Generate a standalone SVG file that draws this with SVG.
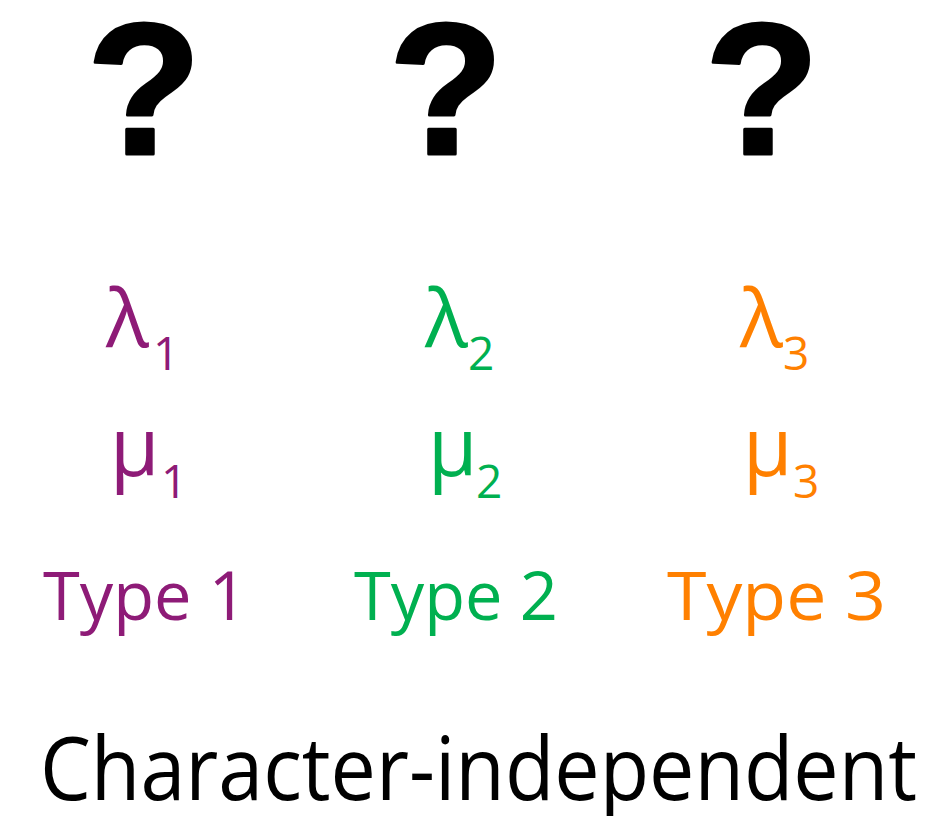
<svg xmlns="http://www.w3.org/2000/svg" width="938" height="816" viewBox="0 0 938 816">
<style>
.q{font-family:"Liberation Sans",Arial,sans-serif;font-weight:bold;font-size:188px;fill:#000;stroke:#000;stroke-width:3;stroke-linejoin:round;text-anchor:middle}
.g{font-family:"Open Sans",sans-serif;font-size:80px}
.s{font-family:"Open Sans",sans-serif;font-size:46px}
.t{font-family:"Open Sans",sans-serif;font-size:67px}
.c1{fill:#8E1B77}
.c2{fill:#00B050}
.c3{fill:#FF8000}
.b{font-family:"Open Sans",sans-serif;font-size:87px;fill:#000}
</style>
<rect width="938" height="816" fill="#fff"/>
<g id="type1">
<text class="q" x="144" y="154">?</text>
<text class="g c1" x="106" y="347">λ</text>
<text class="s c1" x="153" y="370">1</text>
<text class="g c1" x="110" y="476">μ</text>
<text class="s c1" x="161" y="498">1</text>
<text class="t c1" x="43" y="620" textLength="204" lengthAdjust="spacingAndGlyphs">Type 1</text>
</g>
<g id="type2">
<text class="q" x="446" y="154">?</text>
<text class="g c2" x="425" y="347">λ</text>
<text class="s c2" x="468" y="370">2</text>
<text class="g c2" x="428" y="476">μ</text>
<text class="s c2" x="476" y="498">2</text>
<text class="t c2" x="354" y="620" textLength="204" lengthAdjust="spacingAndGlyphs">Type 2</text>
</g>
<g id="type3">
<text class="q" x="762" y="154">?</text>
<text class="g c3" x="740" y="347">λ</text>
<text class="s c3" x="783" y="370">3</text>
<text class="g c3" x="743" y="476">μ</text>
<text class="s c3" x="793" y="498">3</text>
<text class="t c3" x="667" y="620" textLength="219" lengthAdjust="spacingAndGlyphs">Type 3</text>
</g>
<g id="label">
<text class="b" x="40" y="800" textLength="877" lengthAdjust="spacingAndGlyphs">Character-independent</text>
</g>
</svg>
